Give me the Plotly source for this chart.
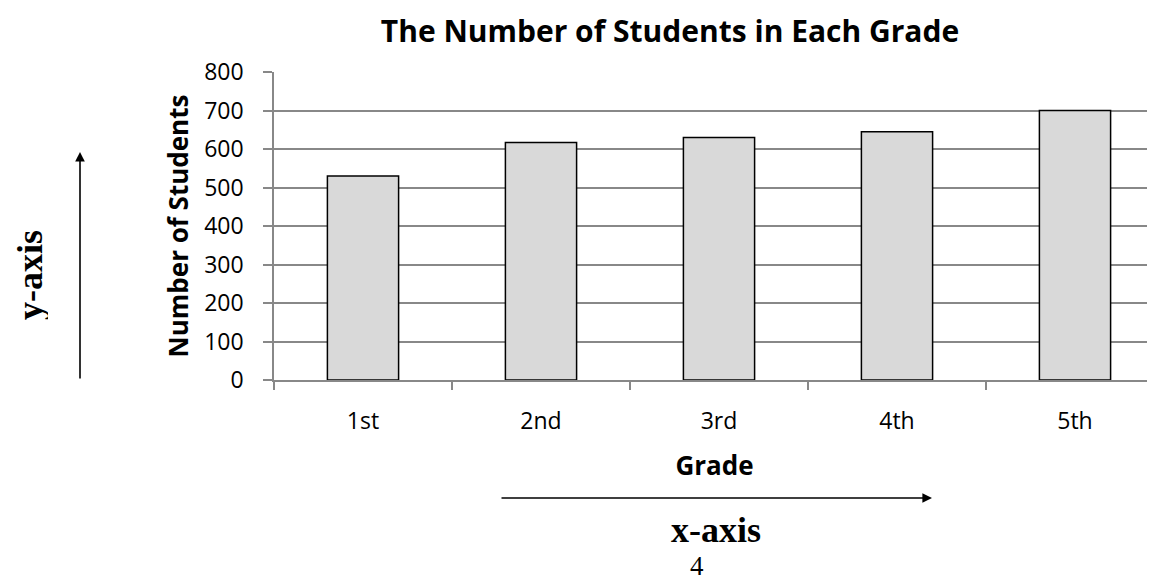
import plotly.graph_objects as go

grades = ["1st", "2nd", "3rd", "4th", "5th"]
students = [530, 617, 630, 645, 700]
y_ticks = [0, 100, 200, 300, 400, 500, 600, 700, 800]

OFF = 8  # page body margin in the browser
W, H = 1155 - OFF, 583 - OFF
L, R, T = 274 - OFF, 0, 72 - OFF
B = H - (380 - OFF)
PW = W - L - R
PH = H - T - B


def px(x):
    return (x - OFF - L) / PW


def py(y):
    return (H - B - (y - OFF)) / PH


fig = go.Figure()
fig.add_trace(go.Bar(
    x=grades, y=students,
    marker=dict(color="#d9d9d9", line=dict(color="#000000", width=1.5)),
    width=0.4,
))

tick_font = dict(family="Open Sans", size=23, color="#000000")
bold = dict(family="Open Sans", size=26, color="#000000", weight="bold")

fig.update_layout(
    width=W, height=H,
    margin=dict(l=L, r=R, t=T, b=B, autoexpand=False),
    paper_bgcolor="white", plot_bgcolor="white",
    showlegend=False,
    title=dict(text="<b>The Number of Students in Each Grade</b>",
               font=dict(family="Open Sans", size=30, color="#000000"),
               x=(670 - OFF) / W, xanchor="center", xref="container",
               y=1 - (31 - OFF) / H, yanchor="middle", yref="container"),
    xaxis=dict(
        range=[-0.5, 4.5 - 9 / 178], type="category",
        tickson="boundaries", ticks="outside", ticklen=8, tickcolor="#888888", tickwidth=1.5,
        showline=True, linecolor="#888888", linewidth=1.5,
        showgrid=False, tickfont=tick_font, ticklabelstandoff=20,
        title=dict(text="<b>Grade</b>", font=bold, standoff=21),
        automargin=False,
    ),
    yaxis=dict(
        range=[0, 800], tickvals=y_ticks,
        ticks="outside", ticklen=9, tickcolor="#888888", tickwidth=1.5,
        showline=True, linecolor="#888888", linewidth=1.5,
        showgrid=True, gridcolor="#888888", gridwidth=1.5,
        zeroline=False, tickfont=tick_font, ticklabelstandoff=15,
        title=dict(text="<b>Number of Students</b>", font=bold, standoff=8),
        automargin=False,
    ),
)

# y-axis arrow
fig.add_annotation(x=px(80), y=py(152), xref="paper", yref="paper",
                   ax=0, ay=228, axref="pixel", ayref="pixel",
                   text="", showarrow=True, arrowhead=2, arrowsize=1.2,
                   arrowwidth=1.6, arrowcolor="#000000", standoff=0, startstandoff=0)
# x-axis arrow
fig.add_annotation(x=px(932), y=py(498), xref="paper", yref="paper",
                   ax=-432, ay=0, axref="pixel", ayref="pixel",
                   text="", showarrow=True, arrowhead=2, arrowsize=1.2,
                   arrowwidth=1.6, arrowcolor="#000000", standoff=0, startstandoff=0)

serif_bold = dict(family="Liberation Serif", size=36, color="#000000", weight="bold")
fig.add_annotation(x=px(30), y=py(275), xref="paper", yref="paper",
                   text="<b>y-axis</b>", textangle=-90, showarrow=False,
                   font=serif_bold, xanchor="center", yanchor="middle",
                   height=36, borderpad=0)
fig.add_annotation(x=px(716), y=py(530), xref="paper", yref="paper",
                   text="<b>x-axis</b>", showarrow=False,
                   font=serif_bold, xanchor="center", yanchor="middle", borderpad=0)
fig.add_annotation(x=px(697), y=py(582), xref="paper", yref="paper",
                   text="4", showarrow=False,
                   font=dict(family="Liberation Serif", size=27, color="#000000"),
                   xanchor="center", yanchor="bottom", borderpad=0)

fig.write_html("out.html")
